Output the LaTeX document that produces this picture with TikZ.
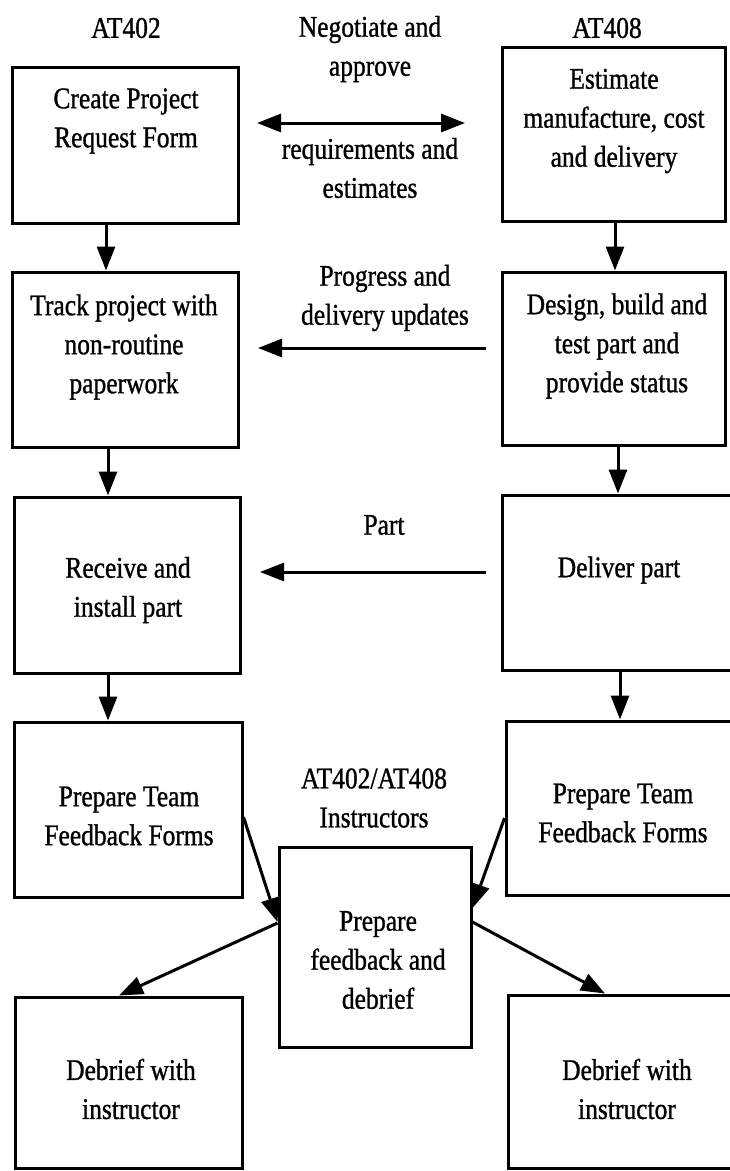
\documentclass[tikz,border=0pt]{standalone}
\usepackage{fontspec}
\setmainfont{Liberation Serif}[FakeStretch=0.85, FakeBold=1]
\usetikzlibrary{calc, arrows.meta}

\begin{document}
\begin{tikzpicture}[x = 1pt, y = -1pt,
        box/.style = {draw = black, line width = 3pt, rectangle, inner sep = 0pt},
        txt/.style = {align = center, inner sep = 0pt, font = \fontsize{30}{39}\selectfont},
        flow/.style = {black, line width = 3pt, -{Triangle[length = 24pt, width = 18pt]}},
        twoway/.style = {black, line width = 3pt, {Triangle[length = 24pt, width = 18pt]}-{Triangle[length = 24pt, width = 18pt]}}]
            \useasboundingbox (0, 0) rectangle (729, 1171);

            \node[box, minimum width = 226pt, minimum height = 156pt] (create) at (125, 145) {};
            \node[box, minimum width = 223pt, minimum height = 174pt] (estimate) at (613.5, 134) {};
            \node[box, minimum width = 226pt, minimum height = 175pt] (track) at (125, 359.5) {};
            \node[box, minimum width = 223pt, minimum height = 173pt] (design) at (613.5, 358.5) {};
            \node[box, minimum width = 226pt, minimum height = 176pt] (receive) at (127, 585) {};
            \node[box, minimum width = 246pt, minimum height = 175pt] (deliver) at (625, 582.5) {};
            \node[box, minimum width = 228pt, minimum height = 175pt] (team_l) at (128, 809.5) {};
            \node[box, minimum width = 242pt, minimum height = 174pt] (team_r) at (627, 808) {};
            \node[box, minimum width = 192pt, minimum height = 200pt] (feedback) at (375, 947) {};
            \node[box, minimum width = 227pt, minimum height = 171pt] (debrief_l) at (128.5, 1082.5) {};
            \node[box, minimum width = 240pt, minimum height = 173pt] (debrief_r) at (628, 1081.5) {};

            \node[txt] (create_txt) at (126, 121) {Create Project\\Request Form};
            \node[txt] (estimate_txt) at (614, 121) {Estimate\\manufacture, cost\\and delivery};
            \node[txt] (track_txt) at (124, 347) {Track project with\\non-routine\\paperwork};
            \node[txt] (design_txt) at (617, 346) {Design, build and\\test part and\\provide status};
            \node[txt] (receive_txt) at (128, 590) {Receive and\\install part};
            \node[txt] (deliver_txt) at (619, 570) {Deliver part};
            \node[txt] (team_l_txt) at (129, 816) {Prepare Team\\Feedback Forms};
            \node[txt] (team_r_txt) at (623, 813) {Prepare Team\\Feedback Forms};
            \node[txt] (feedback_txt) at (378, 960) {Prepare\\feedback and\\debrief};
            \node[txt] (debrief_l_txt) at (131, 1089) {Debrief with\\instructor};
            \node[txt] (debrief_r_txt) at (627, 1089) {Debrief with\\instructor};

            \node[txt] (at402) at (126, 28) {AT402};
            \node[txt] (at408) at (607, 28) {AT408};
            \node[txt] (negotiate) at (370, 49) {Negotiate and\\approve};
            \node[txt] (requirements) at (370, 168) {requirements and\\estimates};
            \node[txt] (progress) at (385, 298) {Progress and\\delivery updates};
            \node[txt] (part) at (384, 525) {Part};
            \node[txt] (instructors) at (374, 798) {AT402/AT408\\Instructors};

            \coordinate (neg_l) at (257, 123);
            \coordinate (neg_r) at (465, 123);
            \coordinate (prog_start) at (486, 348);
            \coordinate (prog_end) at (258, 348);
            \coordinate (part_start) at (486, 572);
            \coordinate (part_end) at (260, 572);

            \draw[twoway] (neg_l) -- (neg_r);
            \draw[flow] (prog_start) -- (prog_end);
            \draw[flow] (part_start) -- (part_end);

            \draw[flow] ($(create.south) + (-19, 0)$) -- ($(track.north) + (-19, 0)$);
            \draw[flow] ($(track.south) + (-17, 0)$) -- ($(receive.north) + (-19, 0)$);
            \draw[flow] ($(receive.south) + (-19, 0)$) -- ($(team_l.north) + (-20, 0)$);
            \draw[flow] ($(estimate.south) + (1.5, 0)$) -- ($(design.north) + (1.5, 0)$);
            \draw[flow] ($(design.south) + (4.5, 0)$) -- ($(deliver.north) + (-7, 0)$);
            \draw[flow] ($(deliver.south) + (-5, 0)$) -- ($(team_r.north) + (-7, 0)$);

            \draw[flow] ($(team_l.east) + (0, 7.5)$) -- ($(feedback.west) + (0, -25)$);
            \draw[flow] ($(team_r.west) + (0, 10)$) -- ($(feedback.east) + (0, -39)$);
            \draw[flow] ($(feedback.west) + (0, -24)$) -- ($(debrief_l.north) + (-9.5, 0)$);
            \draw[flow] ($(feedback.east) + (0, -25)$) -- ($(debrief_r.north) + (-23, 0)$);
        \end{tikzpicture}
\end{document}
